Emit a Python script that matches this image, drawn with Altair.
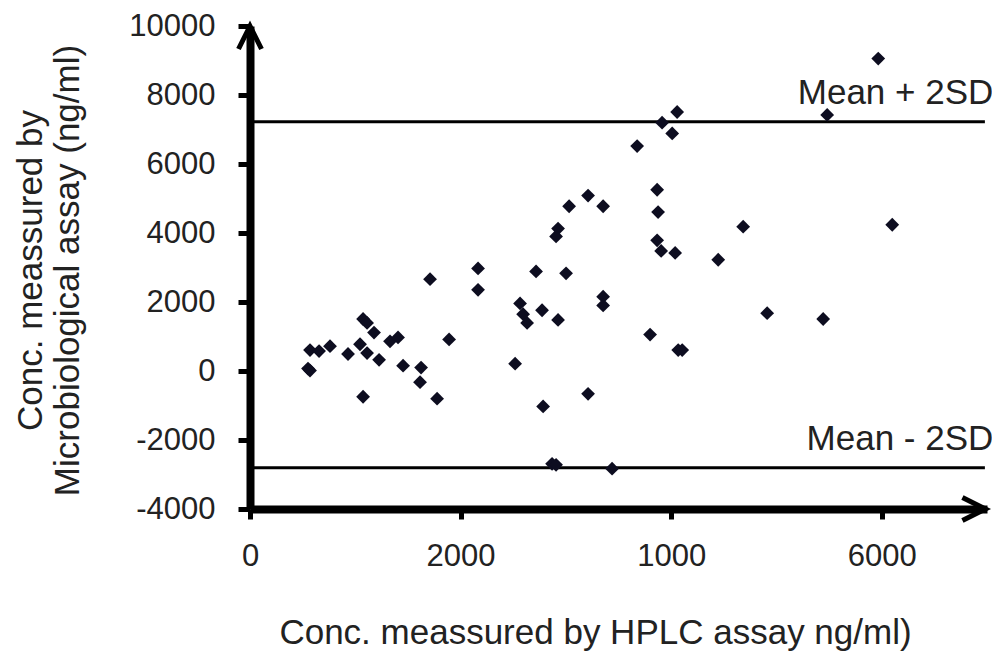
import altair as alt
import pandas as pd

# HPLC concentration (x) vs microbiological assay concentration (y), ng/ml
hplc = [551, 570, 570, 656, 760, 931, 1045, 1112, 1074, 1112, 1178, 1226, 1074, 1330, 1406,
        1454, 1625, 1615, 1777, 1710, 1891, 2166, 2166, 3211, 3031, 3354, 2926, 2907, 2717, 3002,
        2565, 2594, 2632, 2774, 2926, 3354, 3354, 3867, 3876, 3867, 3905, 4038, 2518, 2784, 3211,
        3800, 4067, 2869, 2907, 3439, 4057, 3914, 4010, 5482, 5967, 3677, 4447, 4684, 6100, 4912,
        5444, 4105]
micro = [70, 14, 606, 577, 718, 493, 775, 521, 1507, 1394, 1113, 324, -746, 859, 972,
         155, 99, -324, -803, 2662, 915, 2972, 2352, 5085, 4775, 4775, 4127, 3901, 2887, 2831,
         1958, 1648, 1394, 1761, 1479, 2155, 1901, 5254, 4606, 3789, 3479, 3423, 211, -1028, -662,
         1056, 606, -2690, -2718, -2831, 7507, 7197, 6887, 7423, 9056, 6521, 3225, 4183, 4239, 1676,
         1507, 606]

limit_labels = ["Mean + 2SD", "Mean - 2SD"]
limit_values = [7225, -2803]

x_ticks = [0, 2000, 4000, 6000]
y_ticks = [-4000, -2000, 0, 2000, 4000, 6000, 8000, 10000]
x_domain = [0, 7000]
y_domain = [-4000, 10000]

FONT = "Liberation Sans"

pts = pd.DataFrame({"x": hplc, "y": micro})
lims = pd.DataFrame({"label": limit_labels, "value": limit_values,
                     "x0": [x_domain[0]] * 2, "x1": [6980] * 2, "xt": [7060] * 2})

xscale = alt.Scale(domain=x_domain, nice=False, zero=False)
yscale = alt.Scale(domain=y_domain, nice=False, zero=False)

xaxis = alt.Axis(values=x_ticks,
                 labelExpr="datum.value == 4000 ? '1000' : '' + datum.value",
                 grid=False, domainColor="black", domainWidth=8, tickColor="black",
                 tickWidth=5, tickSize=10, labelFontSize=31, labelFont=FONT,
                 labelColor="#222", labelPadding=22, labelFlush=False,
                 title="Conc. meassured by HPLC assay ng/ml)", titleFont=FONT,
                 titleFontSize=35, titleFontWeight="normal", titleColor="#222",
                 titleX=345, titleY=134, titleBaseline="alphabetic", titleAnchor="middle",
                 titleAlign="center")
yaxis = alt.Axis(values=y_ticks, labelExpr="'' + datum.value",
                 grid=False, domainColor="black", domainWidth=8,
                 tickColor="black", tickWidth=5, tickSize=12, labelFontSize=31,
                 labelFont=FONT, labelColor="#222", labelPadding=23, labelFlush=False,
                 title=["Conc. meassured by", "Microbiological assay (ng/ml)"],
                 titleFont=FONT, titleFontSize=35, titleFontWeight="normal",
                 titleColor="#222", titleAngle=-90, titleX=-220, titleY=244,
                 titleBaseline="middle", titleAlign="center", titleLineHeight=37)

points = alt.Chart(pts).mark_point(shape="diamond", filled=True, size=190,
                                   color="#0d0d20", opacity=1).encode(
    x=alt.X("x:Q", scale=xscale, axis=xaxis),
    y=alt.Y("y:Q", scale=yscale, axis=yaxis),
)

rules = alt.Chart(lims).mark_rule(color="black", strokeWidth=3).encode(
    x=alt.X("x0:Q", scale=xscale), x2="x1:Q", y=alt.Y("value:Q", scale=yscale))

texts = alt.Chart(lims).mark_text(align="right", baseline="alphabetic", dy=-18,
                                  fontSize=35, font=FONT, color="#222").encode(
    x=alt.X("xt:Q", scale=xscale), y=alt.Y("value:Q", scale=yscale), text="label:N")

arrows = pd.DataFrame({"x": [6985, 0], "y": [-4000, 10000]})
arrow_x = alt.Chart(arrows.iloc[[0]]).mark_point(
    shape="M-2,-1L0,0L-2,1", filled=False, size=529, strokeWidth=5, color="black",
    opacity=1, strokeJoin="miter").encode(
    x=alt.X("x:Q", scale=xscale), y=alt.Y("y:Q", scale=yscale))
arrow_y = alt.Chart(arrows.iloc[[1]]).mark_point(
    shape="M-1,2L0,0L1,2", filled=False, size=529, strokeWidth=5, color="black",
    opacity=1, strokeJoin="miter").encode(
    x=alt.X("x:Q", scale=xscale), y=alt.Y("y:Q", scale=yscale))

chart = alt.layer(rules, points, texts, arrow_x, arrow_y).properties(
    width=737, height=483,
    autosize=alt.AutoSizeParams(type="none"),
    padding={"left": 242, "top": 18, "right": 5, "bottom": 150},
    background="white",
).configure_view(stroke=None)

chart.save("out.html", embed_options={"renderer": "svg", "actions": False})
